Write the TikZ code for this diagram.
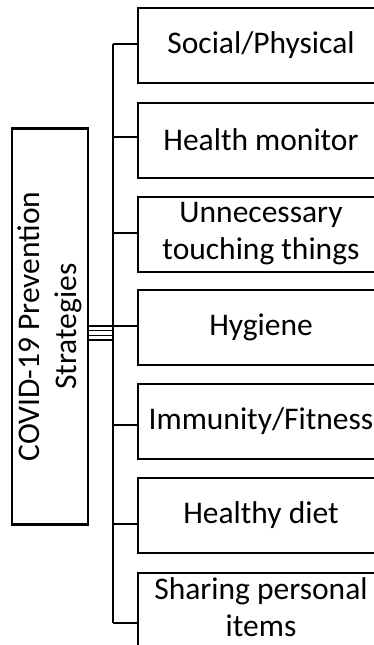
\documentclass[tikz,border=0pt]{standalone}
\usepackage{fontspec}
\setmainfont{Carlito}
\begin{document}
\begin{tikzpicture}[x=1pt,y=-1pt,
  leaf/.style={draw, line width=2pt, anchor=north west, minimum width=246pt, minimum height=75pt, align=center, inner sep=0pt, font=\fontsize{31.5}{37}\selectfont},
  rootbox/.style={draw, line width=2.2pt, rotate=90, minimum width=396pt, minimum height=76pt, align=center, inner sep=0pt, font=\fontsize{31.5}{37}\selectfont},
  spine/.style={line width=2.4pt},
  conn/.style={line width=1.4pt}]
\useasboundingbox (0,0) rectangle (374,645);
\clip (0,0) rectangle (374,645);
\node[rootbox] (root) at (50,326.5) {COVID-19 Prevention\\Strategies};
\node[leaf] (b1) at (137,7)   {Social/Physical};
\node[leaf] (b2) at (137,101.5) {Health monitor};
\node[leaf] (b3) at (137,195.5) {Unnecessary\\touching things};
\node[leaf] (b4) at (137,289) {Hygiene};
\node[leaf] (b5) at (137,383) {Immunity/Fitness};
\node[leaf] (b6) at (137,477) {Healthy diet};
\node[leaf, minimum height=77pt] (b7) at (137,572) {Sharing personal\\items\rule[-9pt]{0pt}{9pt}};
\coordinate (c1) at (113,44);
\coordinate (c2) at (113,137);
\coordinate (c3) at (113,233);
\coordinate (c4) at (113,326);
\coordinate (c5) at (113,425);
\coordinate (c6) at (113,524);
\coordinate (c7) at (113,623);
\draw[spine] (c1) -- (c7);
\foreach \i in {1,...,7} {\draw[conn] (c\i) -- (c\i -| b\i.west);}
\foreach \y [count=\k] in {326,330.7,335.3,340} {
  \coordinate (l\k) at (113,\y);
  \draw[conn] (l\k -| root.south) -- (l\k);
}
\end{tikzpicture}
\end{document}
